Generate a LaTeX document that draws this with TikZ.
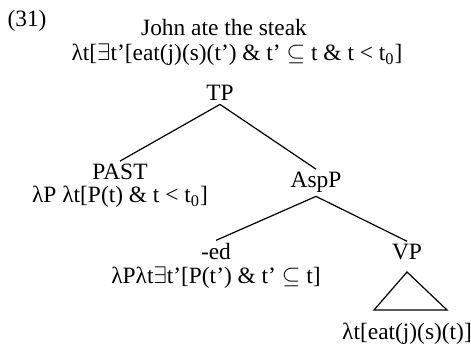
\documentclass[tikz,border=0pt]{standalone}
\usepackage{fontspec}
\setmainfont{Liberation Serif}

\newcommand{\subq}{\ensuremath{\subseteq}}
\newcommand{\exq}{\ensuremath{\exists}}

\begin{document}
\begin{tikzpicture}[x=0.5pt,y=-0.5pt,
	font=\fontsize{11.7}{14}\selectfont,
	every node/.style={inner sep=0pt,anchor=base},
	cat/.style={inner ysep=1.5pt},
	branch/.style={line width=0.6pt}]
	\useasboundingbox (0,0) rectangle (471,347);

	% Example number and the sentence with its meaning
	\node (num) at (27,27) {(31)};
	\node (sent) at (224,36) {John ate the steak};
	\node (top) at (237,61) {λt[\exq t’[eat(j)(s)(t’) \& t’ \subq{} t \& t < t\textsubscript{0}]};

	% Then the category labels
	\node[cat] (TP) at (220,101) {TP};
	\node[cat] (PAST) at (120,180) {PAST};
	\node[cat] (AspP) at (316,188) {AspP};
	\node[cat] (ed) at (216,260) {-ed};
	\node[cat] (VP) at (407,260) {VP};

	% Now add the meanings under the leaves
	\node (pastsem) at (120,203) {λP λt[P(t) \& t < t\textsubscript{0}]};
	\node (edsem) at (216,284) {λPλt\exq t’[P(t’) \& t’ \subq{} t]};
	\node (vpsem) at (407,339) {λt[eat(j)(s)(t)]};

	% Draw the branches
	\draw[branch] (TP.south) -- (PAST.north);
	\draw[branch] (TP.south) -- (AspP.north);
	\draw[branch] (AspP.south) -- (ed.north);
	\draw[branch] (AspP.south) -- (VP.north);

	% Triangle under VP
	\coordinate (vptop) at (407,272);
	\coordinate (vpl) at (374,310);
	\coordinate (vpr) at (447,310);
	\draw[branch] (vptop) -- (vpl) -- (vpr) -- cycle;
\end{tikzpicture}
\end{document}
